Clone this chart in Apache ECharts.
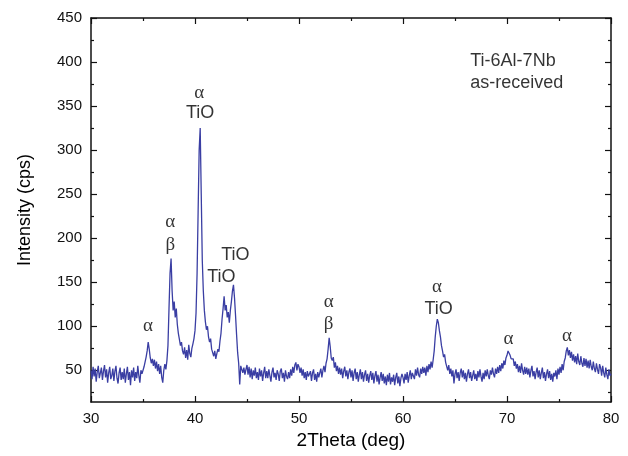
<!DOCTYPE html>
<html>
<head>
<meta charset="utf-8">
<script src="https://cdn.jsdelivr.net/npm/echarts@6/dist/echarts.min.js"></script>
<style>html,body{margin:0;padding:0;background:#fff;}#c{width:628px;height:456px;}</style>
</head>
<body>
<div id="c"></div>
<script>
// 2Theta sampling grid (deg)
var thetaStart = 30, thetaStep = 0.1;
// Intensity (cps), one row per degree, 30.0 .. 80.0
var intensity = [
50,40,54,43,52,37,48,55,41,47,
53,39,49,56,42,51,36,47,54,40,
44,52,38,49,55,41,35,47,53,39,
48,40,52,36,46,54,39,48,33,50,
42,53,38,48,41,55,44,36,50,46,
47,54,56,65,72,82,74,64,58,63,
55,62,52,60,49,57,46,55,42,36,
50,57,51,61,78,120,160,177,140,118,
128,110,120,102,92,85,78,82,72,68,
76,64,73,62,79,69,65,75,80,86,
95,115,160,230,300,325,250,175,140,118,
105,96,100,88,82,86,74,70,66,72,
63,69,74,71,83,92,108,120,134,118,
124,110,116,104,118,128,140,147,132,112,
90,70,58,34,55,57,47,53,45,51,
56,45,54,42,52,40,50,44,53,41,
48,39,52,43,50,38,47,54,41,49,
41,51,44,37,48,53,42,47,39,50,
46,38,49,52,41,47,37,50,43,40,
48,41,51,44,54,47,56,59,50,57,
54,47,53,44,51,41,48,39,49,43,
41,49,38,47,51,39,46,37,48,42,
47,52,42,50,55,48,58,63,74,87,
77,64,61,65,53,59,49,55,46,53,
45,52,41,49,54,43,50,40,48,52,
42,50,38,47,52,40,48,37,45,51,
40,48,37,45,50,38,46,36,44,49,
39,47,35,44,49,37,45,34,42,48,
38,46,35,43,33,45,37,47,34,42,
37,45,33,42,47,35,43,32,41,46,
42,35,46,39,48,36,44,50,40,47,
48,40,51,44,53,45,42,52,46,54,
47,53,44,55,48,57,51,60,53,62,
72,88,100,108,104,95,88,78,72,65,
68,59,58,50,56,46,52,43,50,35,
46,51,41,48,38,47,52,42,50,40,
47,37,46,51,41,48,38,44,50,40,
46,38,49,42,51,43,37,47,40,50,
43,51,44,40,50,45,53,46,42,52,
46,54,47,56,49,58,52,61,56,64,
67,72,73,67,63,61,63,55,60,52,
57,48,55,47,58,50,45,54,46,53,
45,52,42,50,55,43,49,40,48,53,
42,50,40,47,53,41,48,38,46,51,
41,49,39,46,37,47,43,50,40,52,
45,54,47,57,50,60,64,72,76,67,
73,64,71,61,68,59,66,57,69,60,
56,66,58,54,64,55,63,53,61,52,
62,54,50,60,52,48,58,51,46,57,
53,44,55,47,42,53,45,40,51,44,
46
];
// Peak annotations
var annoText = ['α','α','β','α','TiO','TiO','TiO','α','β','α','TiO','α','α'];
var annoX    = [35.48,37.62,37.62,40.41,40.5,43.88,42.53,52.85,52.85,63.27,63.42,70.15,75.77];
var annoY    = [100.4,218.2,192,365,341.7,180.7,156,127,102,144.7,120,85.3,88.7];
// Sample label
var sampleText = ['Ti-6Al-7Nb','as-received'];
var sampleX = [66.47,66.47];
var sampleY = [400.8,376.5];
// Axis ticks
var yMajor = [50,100,150,200,250,300,350,400,450];
var yMinor = [25,75,125,175,225,275,325,375,425];

var lineData = intensity.map(function(v,i){ return [+(thetaStart + i*thetaStep).toFixed(2), v]; });
var annoData = annoText.map(function(t,i){
  var serif = (t==='α'||t==='β');
  return {value:[annoX[i],annoY[i]], label:{formatter:t, fontFamily: serif?'Liberation Serif':'Liberation Sans', fontSize: serif?19:18}};
});
var sampleData = sampleText.map(function(t,i){ return {value:[sampleX[i],sampleY[i]], label:{formatter:t}}; });

var axisColor = '#111';
function yAx(pos, ticks, len, labels, line) {
  return {
    type:'value', position:pos, min:14, max:450,
    axisLine:{show:line, onZero:false, lineStyle:{color:axisColor, width:1.5}},
    axisTick:{show:true, inside:true, length:len, customValues:ticks, lineStyle:{color:axisColor,width:1.2}},
    axisLabel: labels ? {show:true, customValues:yMajor, margin:9, fontSize:15, color:'#111', fontFamily:'Liberation Sans'} : {show:false},
    splitLine:{show:false}
  };
}
var yAxes = [yAx('left', yMajor, 6, true, true), yAx('left', yMinor, 3, false, false), yAx('right', yMajor, 6, false, true), yAx('right', yMinor, 3, false, false)];
yAxes[0].name = 'Intensity (cps)';
yAxes[0].nameLocation = 'middle';
yAxes[0].nameGap = 57;
yAxes[0].nameTextStyle = {fontSize:18, color:'#000', fontFamily:'Liberation Sans'};

function xAx(pos, labels) {
  return {
    type:'value', position:pos, min:30, max:80, interval:10,
    axisLine:{show:true, onZero:false, lineStyle:{color:axisColor, width:1.5}},
    axisTick:{show:true, inside:true, length:6, lineStyle:{color:axisColor,width:1.2}},
    minorTick:{show:true, splitNumber:2, length:3, lineStyle:{color:axisColor,width:1.2}},
    axisLabel: labels ? {show:true, margin:9, fontSize:15, color:'#111', fontFamily:'Liberation Sans'} : {show:false},
    splitLine:{show:false}
  };
}
var xAxes = [xAx('bottom', true), xAx('top', false)];
xAxes[0].name = '2Theta (deg)';
xAxes[0].nameLocation = 'middle';
xAxes[0].nameGap = 27;
xAxes[0].nameTextStyle = {fontSize:19, color:'#000', fontFamily:'Liberation Sans'};

var chart = echarts.init(document.getElementById('c'), null, {renderer:'canvas'});
chart.setOption({
  animation:false,
  backgroundColor:'#fff',
  grid:{left:91, right:17, top:18, bottom:54, containLabel:false},
  xAxis:xAxes,
  yAxis:yAxes,
  series:[
    {type:'line', data:lineData, showSymbol:false, symbol:'none', xAxisIndex:0, yAxisIndex:0,
     lineStyle:{color:'#3a3ea3', width:1.3}, z:3},
    {type:'scatter', data:annoData, symbolSize:0, xAxisIndex:0, yAxisIndex:0, silent:true,
     label:{show:true, position:'inside', color:'#000', align:'center', verticalAlign:'middle'}, z:4},
    {type:'scatter', data:sampleData, symbolSize:0, xAxisIndex:0, yAxisIndex:0, silent:true,
     label:{show:true, position:'inside', color:'#000', align:'left', verticalAlign:'middle', fontSize:18, fontFamily:'Liberation Sans'}, z:4}
  ]
});
</script>
</body>
</html>
